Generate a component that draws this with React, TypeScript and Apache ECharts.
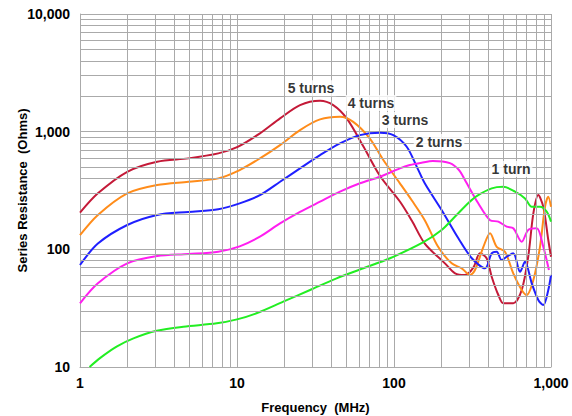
import React, { useEffect, useRef } from "react";
import * as echarts from "echarts";

const freq5 = [1, 1.3, 2, 3.1, 4.9, 7.6, 10.1, 14, 18.8, 25.2, 33.8, 41, 50, 64, 81.5, 109, 130, 157, 211, 245, 283, 320, 353, 389, 419, 462, 497, 575, 651, 716, 772, 830, 893, 961, 1000];
const res5 = [205, 299, 456, 555, 593, 654, 744, 968, 1297, 1683, 1832, 1683, 1297, 744, 420, 255, 175, 112, 76, 62.5, 60.5, 70, 92.5, 83.9, 58.5, 40.9, 34.8, 34.8, 45.1, 86.5, 202, 289, 230, 120, 86.5];

const freq4 = [1, 1.3, 2, 3.1, 4.9, 7.6, 10.4, 14, 18.8, 25.2, 33.8, 45.3, 55, 70, 85.5, 109, 130, 157, 191, 233, 270, 305, 328, 371, 409, 451, 509, 575, 651, 700, 772, 851, 916, 961, 1000];
const res4 = [132, 196, 299, 352, 375, 401, 472, 593, 769, 1032, 1271, 1339, 1210, 877, 574, 364, 260, 177, 105, 76, 69, 60.5, 66.7, 105, 137, 105, 95.5, 62.5, 45.1, 40.9, 54.8, 105, 230, 280, 230];

const freq3 = [1, 1.3, 2, 3.1, 4.9, 7.6, 10.4, 14, 18.8, 25.2, 33.8, 45.3, 60.7, 81.5, 99, 120.5, 140, 157, 201, 257, 313, 380, 419, 451, 485, 522, 575, 635, 683, 754, 830, 893, 961, 1000];
const res3 = [73.6, 112, 161, 196, 208, 219, 246, 289, 375, 488, 632, 795, 935, 979, 935, 744, 500, 364, 216, 124, 84, 69, 92.5, 95.5, 81, 86.5, 92.5, 64.5, 78.5, 51.4, 37.1, 33.6, 45.1, 60.5];

const freq2 = [1, 1.3, 2, 3.1, 4.9, 7.6, 10.4, 14, 18.8, 25.2, 33.8, 45.3, 60.7, 81.5, 109, 126, 150, 177, 227, 260, 283, 344, 409, 462, 522, 575, 651, 716, 811, 893, 970];
const res2 = [34.8, 51.4, 76, 87.7, 91.2, 95.5, 106, 128, 166, 208, 254, 309, 364, 414, 488, 520, 545, 563, 540, 470, 388, 246, 177, 172, 156, 151, 116, 146, 151, 105, 66.7];

const freq1 = [1.15, 1.34, 1.71, 2.19, 3.08, 4.55, 7.43, 10, 13.3, 19.7, 29.2, 43.1, 63.8, 94.3, 154, 200, 245, 300, 338, 419, 497, 590, 683, 754, 851, 939, 1000];
const res1 = [10, 11.9, 14.9, 17.5, 20.3, 22, 23.5, 25.4, 28.6, 35.9, 45.1, 56.7, 69, 84, 115, 145, 190, 250, 285, 330, 340, 309, 271, 230, 230, 209, 172];

const seriesNames = ["5 turns", "4 turns", "3 turns", "2 turns", "1 turn"];
const seriesColors = ["#c41a38", "#ff8c1a", "#1f1fff", "#ff1ef0", "#22ee22"];
const seriesFreqs = [freq5, freq4, freq3, freq2, freq1];
const seriesRes = [res5, res4, res3, res2, res1];

const labelTexts = ["5 turns", "4 turns", "3 turns", "2 turns", "1 turn"];
const labelFreqs = [29.6, 71.4, 117.5, 193.6, 556];
const labelRes = [2344, 1750, 1256, 817, 481];

const xMinor = [2, 3, 4, 5, 6, 7, 8, 9, 20, 30, 40, 50, 60, 70, 80, 90, 200, 300, 400, 500, 600, 700, 800, 900];
const yMinor = [20, 30, 40, 50, 60, 70, 80, 90, 200, 300, 400, 500, 600, 700, 800, 900, 2000, 3000, 4000, 5000, 6000, 7000, 8000, 9000];

const gridColor = "#aaaaaa";
const fontFamily = "Liberation Sans, Arial, sans-serif";

export default function App() {
  const ref = useRef<HTMLDivElement>(null);
  useEffect(() => {
    if (!ref.current) return;
    const chart = echarts.init(ref.current, undefined, { renderer: "svg" });
    const fmt = (v: number) => Number(v).toLocaleString("en-US");
    const lineSeries = seriesNames.map((name, i) => ({
      name,
      type: "line",
      data: seriesFreqs[i].map((f, j) => [f, seriesRes[i][j]]),
      smooth: 0.3,
      showSymbol: false,
      symbol: "none",
      lineStyle: { color: seriesColors[i], width: 2 },
      itemStyle: { color: seriesColors[i] },
      z: 3,
    }));
    chart.setOption({
      animation: false,
      backgroundColor: "#ffffff",
      grid: { left: 80, right: 21, top: 14, bottom: 49, containLabel: false, outerBoundsMode: "none" },
      xAxis: {
        type: "log",
        logBase: 10,
        min: 1,
        max: 1000,
        name: "Frequency  (MHz)",
        nameLocation: "middle",
        nameGap: 34,
        nameMoveOverlap: false,
        nameTextStyle: { fontFamily, fontWeight: "bold", fontSize: 13, color: "#000" },
        axisLine: { show: true, lineStyle: { color: gridColor } },
        axisTick: { show: false },
        axisLabel: { fontFamily, fontWeight: "bold", fontSize: 14, color: "#000", margin: 9, formatter: fmt },
        splitLine: { show: true, lineStyle: { color: gridColor, width: 1 } },
      },
      yAxis: {
        type: "log",
        logBase: 10,
        min: 10,
        max: 10000,
        name: "Series Resistance  (Ohms)",
        nameLocation: "middle",
        nameGap: 51,
        nameMoveOverlap: false,
        nameTextStyle: { fontFamily, fontWeight: "bold", fontSize: 13, color: "#000" },
        axisLine: { show: true, lineStyle: { color: gridColor } },
        axisTick: { show: false },
        axisLabel: { fontFamily, fontWeight: "bold", fontSize: 14, color: "#000", margin: 10, formatter: fmt },
        splitLine: { show: true, lineStyle: { color: gridColor, width: 1 } },
      },
      series: [
        {
          type: "line",
          data: [],
          silent: true,
          z: 1,
          markLine: {
            silent: true,
            symbol: ["none", "none"],
            label: { show: false },
            lineStyle: { color: gridColor, width: 1, type: "solid" },
            data: [
              ...xMinor.map((v) => ({ xAxis: v })),
              ...yMinor.map((v) => ({ yAxis: v })),
            ],
          },
        },
        ...lineSeries,
        {
          type: "scatter",
          data: labelFreqs.map((f, i) => [f, labelRes[i]]),
          symbolSize: 0,
          silent: true,
          z: 5,
          label: {
            show: true,
            position: "inside",
            formatter: (p: any) => labelTexts[p.dataIndex],
            fontFamily,
            fontWeight: "bold",
            fontSize: 14,
            color: "#000",
            backgroundColor: "#ffffff",
            padding: [1, 2],
          },
        },
      ],
    });
    return () => chart.dispose();
  }, []);
  return (
    <div
      ref={ref}
      style={{ position: "fixed", left: 0, top: 0, width: 572, height: 416, background: "#fff" }}
    />
  );
}
